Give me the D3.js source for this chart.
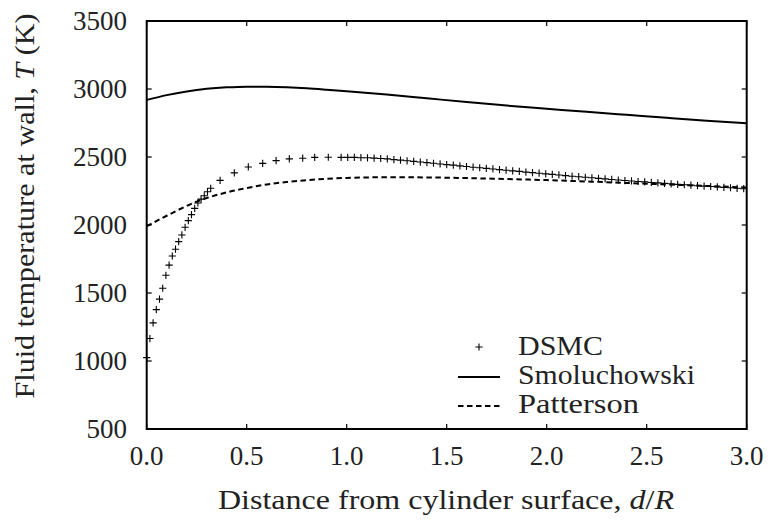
<!DOCTYPE html>
<html>
<head>
<meta charset="utf-8">
<script src="https://cdn.jsdelivr.net/npm/d3@7"></script>
<style>
  body { margin: 0; background: #fff; }
  svg text { font-family: "Liberation Serif", "DejaVu Serif", serif; fill: #222; }
</style>
</head>
<body>
<svg id="chart" width="768" height="522"></svg>
<script>
// DSMC samples (distance d/R, wall temperature K)
var dsmcD = [0.000, 0.016, 0.032, 0.048, 0.064, 0.080, 0.096, 0.112, 0.128, 0.144, 0.160, 0.176, 0.192, 0.208, 0.224, 0.240, 0.256, 0.272, 0.288, 0.304, 0.320,
  0.367, 0.438, 0.508, 0.580, 0.647, 0.713, 0.780, 0.840, 0.908, 0.972,
  1.005, 1.038, 1.071, 1.104, 1.137, 1.170, 1.203, 1.236, 1.269, 1.302, 1.335, 1.368, 1.401, 1.434, 1.467, 1.500,
  1.533, 1.566, 1.599, 1.632, 1.665, 1.698, 1.731, 1.764, 1.797, 1.830, 1.863, 1.896, 1.929, 1.962, 1.995,
  2.028, 2.061, 2.094, 2.127, 2.160, 2.193, 2.226, 2.259, 2.292, 2.325, 2.358, 2.391, 2.424, 2.457, 2.490,
  2.523, 2.556, 2.589, 2.622, 2.655, 2.688, 2.721, 2.754, 2.787, 2.820, 2.853, 2.886, 2.919, 2.952, 2.985];
var dsmcT = [1025, 1165, 1280, 1378, 1455, 1535, 1630, 1705, 1772, 1822, 1878, 1927, 1983, 2032, 2076, 2122, 2162, 2190, 2215, 2245, 2270,
  2328, 2383, 2427, 2453, 2473, 2486, 2491, 2497, 2498, 2497,
  2497, 2497, 2495, 2494, 2492, 2489, 2486, 2481, 2477, 2472, 2468, 2463, 2459, 2454, 2449, 2444,
  2440, 2435, 2430, 2425, 2421, 2416, 2412, 2407, 2403, 2398, 2394, 2389, 2385, 2381, 2376,
  2372, 2368, 2363, 2359, 2355, 2351, 2347, 2343, 2339, 2335, 2331, 2327, 2324, 2320, 2317,
  2313, 2310, 2306, 2303, 2299, 2296, 2293, 2289, 2286, 2283, 2280, 2277, 2274, 2270, 2267];

// Smoluchowski jump model
var smolD = [0.0, 0.1, 0.2, 0.3, 0.4, 0.5, 0.6, 0.7, 0.8, 0.9, 1.0, 1.2, 1.4, 1.6, 1.8, 2.0, 2.2, 2.4, 2.6, 2.8, 3.0];
var smolT = [2920, 2955, 2982, 3001, 3012, 3017, 3016, 3012, 3005, 2995, 2984, 2960, 2932, 2904, 2878, 2855, 2832, 2810, 2788, 2767, 2748];

// Patterson model
var patD = [0.0, 0.05, 0.1, 0.15, 0.2, 0.25, 0.3, 0.4, 0.5, 0.6, 0.7, 0.8, 0.9, 1.0, 1.2, 1.4, 1.6, 1.8, 2.0, 2.2, 2.4, 2.6, 2.8, 3.0];
var patT = [1990, 2030, 2068, 2105, 2140, 2172, 2198, 2240, 2272, 2298, 2316, 2330, 2340, 2346, 2351, 2350, 2345, 2338, 2330, 2320, 2309, 2298, 2287, 2276];

var xTicks = [0.0, 0.5, 1.0, 1.5, 2.0, 2.5, 3.0];
var yTicks = [500, 1000, 1500, 2000, 2500, 3000, 3500];
var legendNames = ["DSMC", "Smoluchowski", "Patterson"];

var svg = d3.select("#chart");
var mLeft = 146.7, mRight = 746.7, mTop = 21, mBottom = 429;

var x = d3.scaleLinear().domain([0, 3]).range([mLeft, mRight]);
var y = d3.scaleLinear().domain([500, 3500]).range([mBottom, mTop]);

// frame
svg.append("rect")
  .attr("x", mLeft).attr("y", mTop)
  .attr("width", mRight - mLeft).attr("height", mBottom - mTop)
  .attr("fill", "none").attr("stroke", "#000").attr("stroke-width", 2);

// ticks inside on all four sides (mirrored)
var tl = 5;
xTicks.forEach(function (t) {
  svg.append("line").attr("x1", x(t)).attr("x2", x(t)).attr("y1", mBottom).attr("y2", mBottom - tl)
    .attr("stroke", "#000").attr("stroke-width", 1.2);
  svg.append("line").attr("x1", x(t)).attr("x2", x(t)).attr("y1", mTop).attr("y2", mTop + tl)
    .attr("stroke", "#000").attr("stroke-width", 1.2);
  svg.append("text").attr("x", x(t)).attr("y", 465)
    .attr("text-anchor", "middle").attr("font-size", 27)
    .text(d3.format(".1f")(t));
});
yTicks.forEach(function (t) {
  svg.append("line").attr("x1", mLeft).attr("x2", mLeft + tl).attr("y1", y(t)).attr("y2", y(t))
    .attr("stroke", "#000").attr("stroke-width", 1.2);
  svg.append("line").attr("x1", mRight).attr("x2", mRight - tl).attr("y1", y(t)).attr("y2", y(t))
    .attr("stroke", "#000").attr("stroke-width", 1.2);
  svg.append("text").attr("x", 127).attr("y", y(t)).attr("dy", "0.33em")
    .attr("text-anchor", "end").attr("font-size", 27)
    .text(t);
});

// axis titles
var xt = svg.append("text").attr("x", 446).attr("y", 509)
  .attr("text-anchor", "middle").attr("font-size", 28)
  .attr("textLength", 456).attr("lengthAdjust", "spacingAndGlyphs");
xt.append("tspan").text("Distance from cylinder surface, ");
xt.append("tspan").attr("font-style", "italic").text("d");
xt.append("tspan").text("/");
xt.append("tspan").attr("font-style", "italic").text("R");

var yt = svg.append("text")
  .attr("transform", "translate(34,206) rotate(-90)")
  .attr("text-anchor", "middle").attr("font-size", 28)
  .attr("textLength", 385).attr("lengthAdjust", "spacingAndGlyphs");
yt.append("tspan").text("Fluid temperature at wall, ");
yt.append("tspan").attr("font-style", "italic").text("T");
yt.append("tspan").text(" (K)");

// curves
var line = d3.line()
  .x(function (d) { return x(d[0]); })
  .y(function (d) { return y(d[1]); })
  .curve(d3.curveMonotoneX);

svg.append("path")
  .datum(d3.zip(smolD, smolT))
  .attr("d", line)
  .attr("fill", "none").attr("stroke", "#000").attr("stroke-width", 2);

svg.append("path")
  .datum(d3.zip(patD, patT))
  .attr("d", line)
  .attr("fill", "none").attr("stroke", "#000").attr("stroke-width", 2)
  .attr("stroke-dasharray", "5.5,3.5");

// DSMC crosses
var cs = 3.6;
var pts = svg.append("g").selectAll("path")
  .data(d3.zip(dsmcD, dsmcT))
  .enter()
  .append("path")
  .attr("d", function (d) {
    var cx = x(d[0]), cy = y(d[1]);
    return "M" + (cx - cs) + "," + cy + "H" + (cx + cs) + "M" + cx + "," + (cy - cs) + "V" + (cy + cs);
  })
  .attr("stroke", "#000").attr("stroke-width", 1.1).attr("fill", "none");

// legend
var lgX0 = 458, lgX1 = 500, lgText = 518;
var rows = [355, 384, 413];
var lgWidth = [85, 177, 121];
svg.append("path")
  .attr("d", "M" + (479 - cs) + "," + (rows[0] - 8) + "H" + (479 + cs) + "M479," + (rows[0] - 8 - cs) + "V" + (rows[0] - 8 + cs))
  .attr("stroke", "#000").attr("stroke-width", 1.1);
svg.append("line").attr("x1", lgX0).attr("x2", lgX1).attr("y1", rows[1] - 7).attr("y2", rows[1] - 7)
  .attr("stroke", "#000").attr("stroke-width", 2);
svg.append("line").attr("x1", lgX0).attr("x2", lgX1).attr("y1", rows[2] - 7).attr("y2", rows[2] - 7)
  .attr("stroke", "#000").attr("stroke-width", 2).attr("stroke-dasharray", "5.5,3.5");
legendNames.forEach(function (n, i) {
  svg.append("text").attr("x", lgText).attr("y", rows[i])
    .attr("font-size", 27)
    .attr("textLength", lgWidth[i]).attr("lengthAdjust", "spacingAndGlyphs")
    .text(n);
});
</script>
</body>
</html>
